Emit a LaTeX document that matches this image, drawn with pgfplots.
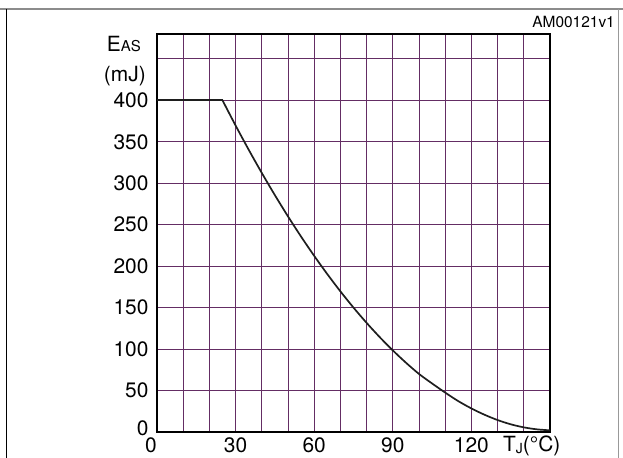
\documentclass[border=0pt]{standalone}
\usepackage{fontspec}
\setmainfont{TeX Gyre Heros}
\usepackage{pgfplots}
\pgfplotsset{compat=1.18}
\definecolor{gridpurple}{RGB}{100,45,100}
\definecolor{curve}{RGB}{30,30,30}
\begin{document}
\begin{tikzpicture}[x=1bp,y=1bp]
\useasboundingbox (0,0) rectangle (623,458);
% outer frame
\draw[black!45, line width=1.5bp] (0,449) -- (623,449);
\draw[black, line width=1bp] (6.5,449) -- (6.5,0);
\draw[black!40, line width=0.8bp] (618,449) -- (618,0);
\node[anchor=east, font=\fontsize{15.5}{17}\selectfont, inner sep=0pt] at (615,436) {AM00121v1};
\begin{axis}[
    at={(157bp,26bp)}, anchor=south west,
    width=393bp, height=398bp, scale only axis,
    xmin=0, xmax=150, ymin=0, ymax=480,
    xtick={0,10,...,150},
    xticklabels={{\hspace*{-12bp}0},,,30,,,60,,,90,,,120,,,},
    ytick={0,50,...,450},
    yticklabels={{\raisebox{7bp}{0}},50,100,150,200,250,300,350,400,},
    grid=major,
    grid style={gridpurple, line width=0.8bp},
    major tick length=0pt,
    axis line style={line width=2bp},
    tick label style={font=\fontsize{21}{24}\selectfont},
    xticklabel style={inner sep=0pt, yshift=-5.5bp},
    yticklabel style={xshift=-5bp},
]
\addplot[curve, line width=1.7bp] coordinates {(0,400) (25,400)};
\addplot[curve, line width=1.7bp, smooth] coordinates {
    (25,400) (30,369.6) (35,340.4) (40,312.4) (45,285.6) (50,260)
    (55,235.6) (60,212.4) (65,190.4) (70,169.6) (75,150) (80,131.6)
    (85,114.4) (90,98.4) (95,83.6) (100,70) (105,58.5) (110,47.5)
    (115,37.2) (120,28.4) (125,20.8) (130,14.4) (135,9.3) (140,5.6)
    (145,3.2) (150,2)
};
\end{axis}
\node[anchor=base east, inner sep=0pt] at (141,406)
    {\fontsize{21}{24}\selectfont E\fontsize{15}{18}\selectfont AS};
\node[anchor=base east, inner sep=0pt, font=\fontsize{21}{24}\selectfont] at (146,376) {(mJ)};
\node[anchor=base west, inner sep=0pt] at (503,6)
    {\fontsize{21}{24}\selectfont T\raisebox{-1.5bp}{\fontsize{14}{16}\selectfont J}(°C)};
\end{tikzpicture}
\end{document}
